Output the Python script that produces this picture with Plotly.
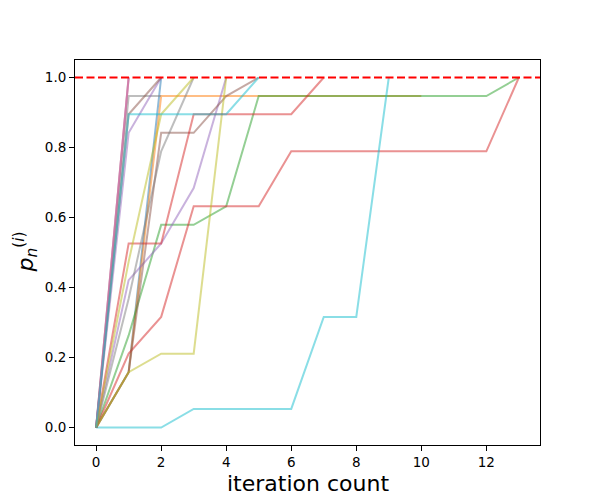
import plotly.graph_objects as go

# Series values (x = iteration index 0..len-1)
blue_a = [0.0, 0.158, 1.0]
orange_a = [0.0, 0.158, 0.947, 0.947, 0.947, 0.947, 0.947, 0.947, 0.947, 0.947, 0.947]
green_a = [0.0, 0.263, 0.579, 0.579, 0.632, 0.947, 0.947, 0.947, 0.947, 0.947, 0.947, 0.947, 0.947, 1.0]
red_a = [0.0, 0.211, 0.316, 0.632, 0.632, 0.632, 0.789, 0.789, 0.789, 0.789, 0.789, 0.789, 0.789, 1.0]
purple_a = [0.0, 0.421, 0.526, 0.684, 1.0]
brown_a = [0.0, 0.158, 0.842, 0.842, 0.947, 1.0]
pink_a = [0.0, 1.0]
gray_a = [0.0, 0.947, 0.947]
olive_a = [0.0, 0.158, 0.211, 0.211, 1.0]
cyan_a = [0.0, 0.0, 0.0, 0.053, 0.053, 0.053, 0.053, 0.316, 0.316, 1.0]
brown_c = [0.0, 1.0]
red_b = [0.0, 0.526, 0.526, 0.895, 0.895, 0.895, 0.895, 1.0]
purple_b = [0.0, 0.842, 1.0]
brown_b = [0.0, 0.895, 1.0]
pink_b = [0.0, 1.0]
gray_b = [0.0, 0.368, 0.789, 1.0]
olive_b = [0.0, 0.474, 0.895, 1.0]
cyan_b = [0.0, 0.895, 0.895, 0.895, 0.895, 1.0]

x_ticks = [0, 2, 4, 6, 8, 10, 12]
y_ticks = [0.0, 0.2, 0.4, 0.6, 0.8, 1.0]
target_level = 1.0

series = [
    (blue_a, "#1f77b4"), (orange_a, "#ff7f0e"), (green_a, "#2ca02c"), (red_a, "#d62728"),
    (purple_a, "#9467bd"), (brown_a, "#8c564b"), (pink_a, "#e377c2"), (gray_a, "#7f7f7f"),
    (olive_a, "#bcbd22"), (cyan_a, "#17becf"),
    (brown_c, "#8c564b"), (red_b, "#d62728"), (purple_b, "#9467bd"), (brown_b, "#8c564b"),
    (pink_b, "#e377c2"), (gray_b, "#7f7f7f"), (olive_b, "#bcbd22"), (cyan_b, "#17becf"),
]

fig = go.Figure()
for vals, col in series:
    fig.add_trace(go.Scatter(
        x=list(range(len(vals))), y=vals, mode="lines",
        line=dict(color=col, width=2), opacity=0.5, showlegend=False,
        hoverinfo="skip"))

fig.add_shape(type="line", xref="paper", x0=0, x1=1, yref="y",
              y0=target_level, y1=target_level,
              line=dict(color="red", width=2, dash="8px,3.5px"), layer="above")

font = "DejaVu Sans, Arial, sans-serif"
axis_common = dict(showgrid=False, zeroline=False, showline=True, linecolor="black",
                   linewidth=1, mirror=True, ticks="outside", ticklen=5, tickwidth=1,
                   tickcolor="black", tickfont=dict(family=font, size=13.5, color="black"))

fig.update_layout(
    width=592, height=492,
    margin=dict(l=67, r=60, t=52, b=55),
    paper_bgcolor="white", plot_bgcolor="white",
    xaxis=dict(range=[-0.65, 13.65], tickvals=x_ticks,
               ticktext=[str(v) for v in x_ticks], **axis_common),
    yaxis=dict(range=[-0.05, 1.05], tickvals=y_ticks,
               ticktext=[f"{v:.1f}" for v in y_ticks], **axis_common),
    annotations=[
        dict(text="iteration count", xref="paper", yref="paper", x=0.5, y=0,
             xanchor="center", yanchor="middle", yshift=-38, showarrow=False,
             font=dict(family=font, size=22, color="black")),
        dict(text="<i>p</i><sub><i>n</i></sub><sup>(<i>i</i>)</sup>", xref="paper", yref="paper",
             x=0, y=0.5, xanchor="center", yanchor="middle", xshift=-50, textangle=-90,
             showarrow=False, font=dict(family=font, size=22, color="black")),
    ],
)

fig.write_html("out.html")
